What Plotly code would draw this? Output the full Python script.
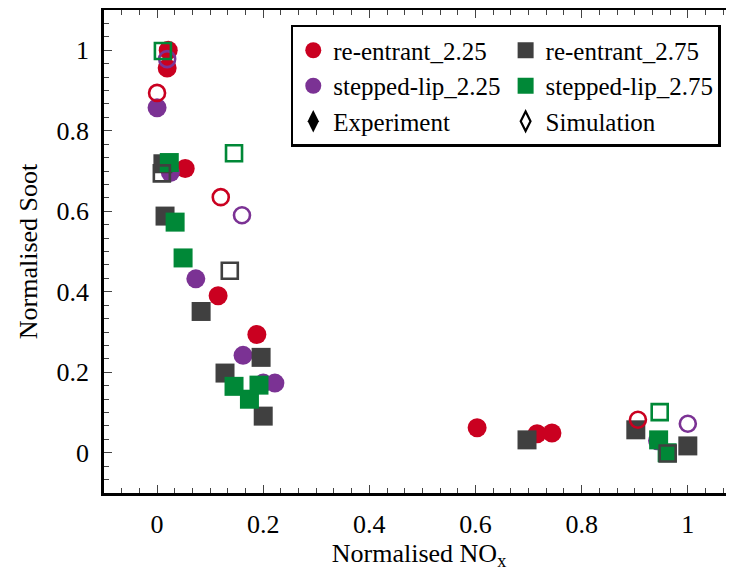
import plotly.graph_objects as go

# ---------------- data ----------------
series_names = ["re-entrant_2.25", "re-entrant_2.75", "stepped-lip_2.25", "stepped-lip_2.75"]
series_colors = ["#ca0020", "#404040", "#7b3294", "#008837"]
series_symbols = ["circle", "square", "circle", "square"]

# Experiment (filled markers)
re225_exp_x = [0.021, 0.019, 0.053, 0.115, 0.188, 0.603, 0.716, 0.744]
re225_exp_y = [1.0, 0.956, 0.706, 0.39, 0.294, 0.062, 0.047, 0.049]
re275_exp_x = [0.011, 0.015, 0.083, 0.128, 0.196, 0.2, 0.697, 0.902, 1.0]
re275_exp_y = [0.718, 0.588, 0.351, 0.198, 0.237, 0.091, 0.032, 0.057, 0.017]
sl225_exp_x = [0.0, 0.025, 0.073, 0.162, 0.2, 0.222, 0.943]
sl225_exp_y = [0.857, 0.696, 0.432, 0.242, 0.173, 0.173, 0.03]
sl275_exp_x = [0.023, 0.034, 0.049, 0.145, 0.174, 0.192, 0.945, 0.961]
sl275_exp_y = [0.721, 0.573, 0.484, 0.165, 0.133, 0.168, 0.032, 0.0]

# Simulation (open markers)
re225_sim_x = [0.0, 0.12, 0.906]
re225_sim_y = [0.894, 0.635, 0.082]
re275_sim_x = [0.009, 0.137, 0.962]
re275_sim_y = [0.694, 0.452, -0.002]
sl225_sim_x = [0.019, 0.16, 1.0]
sl225_sim_y = [0.978, 0.59, 0.072]
sl275_sim_x = [0.011, 0.145, 0.947]
sl275_sim_y = [0.998, 0.744, 0.101]

exp_data = [(re225_exp_x, re225_exp_y), (re275_exp_x, re275_exp_y),
            (sl225_exp_x, sl225_exp_y), (sl275_exp_x, sl275_exp_y)]
sim_data = [(re225_sim_x, re225_sim_y), (re275_sim_x, re275_sim_y),
            (sl225_sim_x, sl225_sim_y), (sl275_sim_x, sl275_sim_y)]

x_ticks = [0, 0.2, 0.4, 0.6, 0.8, 1]
y_ticks = [0, 0.2, 0.4, 0.6, 0.8, 1]
tick_text = ["0", "0.2", "0.4", "0.6", "0.8", "1"]

FONT = "Liberation Serif, Times New Roman, serif"
FS = 26
LEG_FS = 25

fig = go.Figure()

# draw order: red, purple, dark, green experiments, then simulations
draw_order = [0, 2, 1, 3]
legend_rank = {0: 1, 1: 2, 2: 3, 3: 4}

for i in draw_order:
    x, y = exp_data[i]
    fig.add_trace(go.Scatter(
        x=x, y=y, mode="markers", name=series_names[i],
        legendrank=legend_rank[i],
        marker=dict(symbol=series_symbols[i], size=19, color=series_colors[i],
                    line=dict(width=0)),
    ))

for i in draw_order:
    x, y = sim_data[i]
    fig.add_trace(go.Scatter(
        x=x, y=y, mode="markers", name=series_names[i] + " (sim)", showlegend=False,
        marker=dict(symbol=series_symbols[i] + "-open", size=16, color=series_colors[i],
                    line=dict(width=2.6, color=series_colors[i])),
    ))

fig.add_trace(go.Scatter(x=[None], y=[None], mode="markers", name="Experiment", legendrank=5,
                         marker=dict(symbol="diamond-tall", size=16, color="black")))
fig.add_trace(go.Scatter(x=[None], y=[None], mode="markers", name="Simulation", legendrank=6,
                         marker=dict(symbol="diamond-tall-open", size=14, color="black",
                                     line=dict(width=2.2, color="black"))))

axis_common = dict(
    showgrid=False, zeroline=False, showline=True, linecolor="black", linewidth=2.5,
    mirror="allticks", ticks="inside", ticklen=8, tickwidth=1.2, tickcolor="#444",
    tickfont=dict(family=FONT, size=FS, color="black"), automargin=False,
)

fig.update_xaxes(
    range=[-0.1, 1.087], tickvals=x_ticks, ticktext=tick_text,
    ticklabelstandoff=6,
    minor=dict(dtick=0.2 / 6, tick0=0, ticks="inside", ticklen=5, tickwidth=1.2, tickcolor="#444"),
    title=dict(text="Normalised NO<sub>x</sub>", font=dict(family=FONT, size=FS, color="black"),
               standoff=6),
    **axis_common,
)
fig.update_yaxes(
    range=[-0.1, 1.1], tickvals=y_ticks, ticktext=tick_text,
    ticklabelstandoff=7,
    minor=dict(dtick=0.2 / 6, tick0=0, ticks="inside", ticklen=5, tickwidth=1.2, tickcolor="#444"),
    title=dict(text="Normalised Soot", font=dict(family=FONT, size=FS, color="black"),
               standoff=12),
    **axis_common,
)

# the page adds an 8px body margin, so the figure is sized/offset to compensate
fig.update_layout(
    width=726, height=566,
    margin=dict(l=96, r=0, t=2, b=81),
    plot_bgcolor="white", paper_bgcolor="white",
    font=dict(family=FONT, size=FS, color="black"),
    legend=dict(
        orientation="h", x=0.979, y=0.969, xanchor="right", yanchor="top",
        bordercolor="black", borderwidth=2.5, bgcolor="white",
        font=dict(family=FONT, size=LEG_FS, color="black"),
        tracegroupgap=0, itemwidth=30,
    ),
)

fig.write_html("out.html")
